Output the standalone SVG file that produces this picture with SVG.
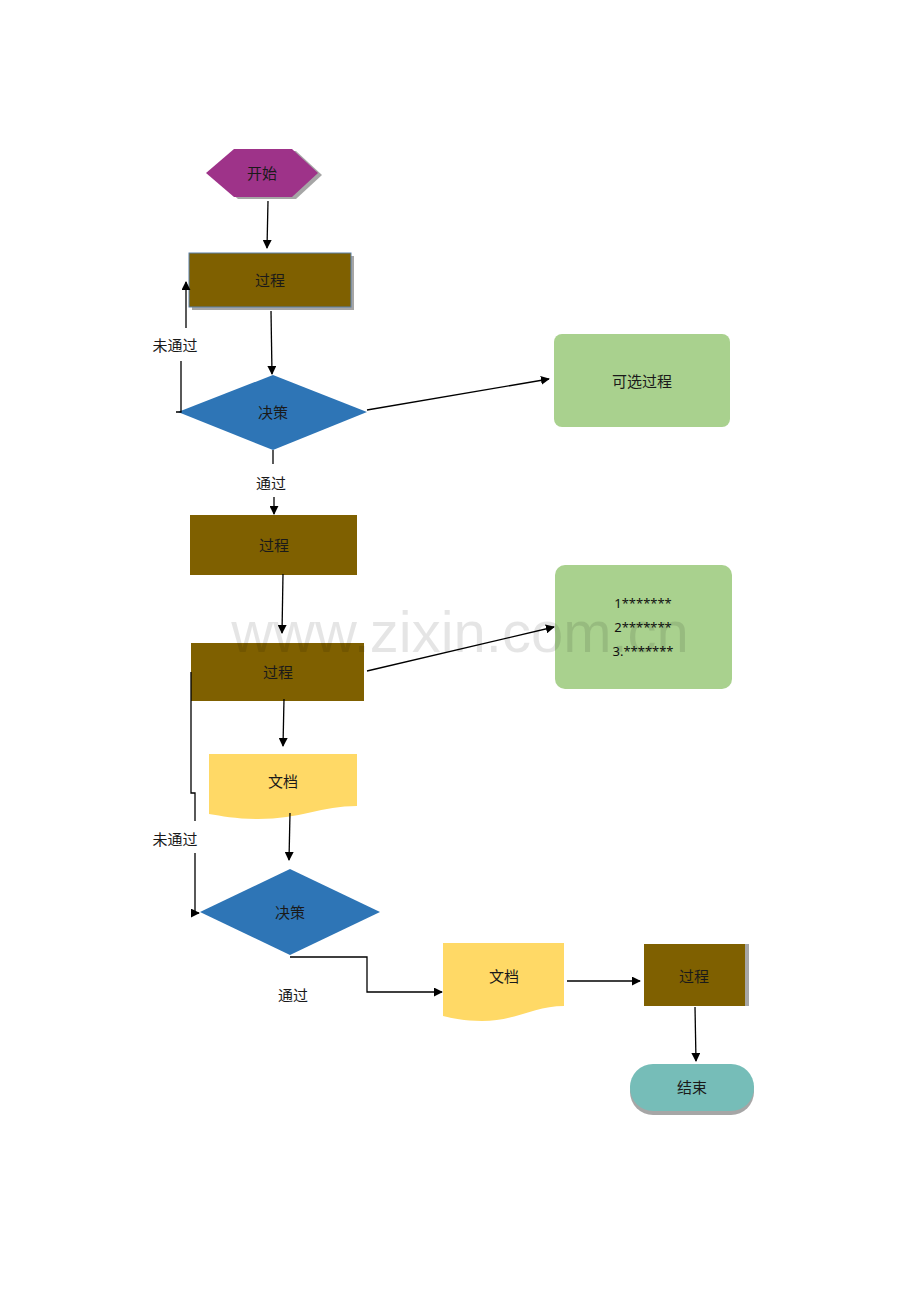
<svg xmlns="http://www.w3.org/2000/svg" width="920" height="1302" viewBox="0 0 920 1302">
<defs>
<style>
.t{font-family:"Liberation Sans","Noto Sans CJK SC",sans-serif;font-size:15px;fill:#1a1a1a;text-anchor:middle;dominant-baseline:central}
.n{font-family:"Noto Sans",sans-serif;font-size:13px;fill:#111;text-anchor:middle;dominant-baseline:central}
.c{fill:none;stroke:#000;stroke-width:1.3}
.proc{fill:#7F6000}
.doc{fill:#FFD966}
.dec{fill:#2E75B6}
.alt{fill:#A9D18E}
.sh{fill:#A6A6A6}
</style>
<marker id="a" viewBox="0 0 10 10" refX="9" refY="5" markerWidth="9" markerHeight="9" orient="auto" markerUnits="userSpaceOnUse"><path d="M0,0 L10,5 L0,10 Z" fill="#000"/></marker>
</defs>
<rect width="920" height="1302" fill="#fff"/>

<g id="start">
<polygon class="sh" points="210,175 238,151 296,151 322,175 296,199 238,199"/>
<polygon fill="#9E3389" points="206,173 234,149 292,149 318,173 292,197 234,197"/>
<text class="t" x="262" y="173">开始</text>
</g>

<g id="process1">
<rect class="sh" x="192" y="256" width="162" height="54"/>
<rect class="proc" x="189" y="253" width="162" height="54" stroke="#5B7FA6" stroke-width="1"/>
<text class="t" x="270" y="280">过程</text>
</g>

<g id="decision1">
<polygon class="dec" points="178,412 273,375 367,412 273,450"/>
<text class="t" x="273" y="412">决策</text>
</g>

<g id="optional">
<rect class="alt" x="554" y="334" width="176" height="93" rx="8"/>
<text class="t" x="642" y="381">可选过程</text>
</g>

<g id="process2">
<rect class="proc" x="190" y="515" width="167" height="60"/>
<text class="t" x="274" y="545">过程</text>
</g>

<g id="process3">
<rect class="proc" x="191" y="643" width="173" height="58"/>
<text class="t" x="278" y="672">过程</text>
</g>

<g id="notes">
<rect class="alt" x="555" y="565" width="177" height="124" rx="10"/>
<text class="n" x="643" y="603">1*******</text>
<text class="n" x="643" y="627">2*******</text>
<text class="n" x="643" y="651">3.*******</text>
</g>

<g id="document1">
<path class="doc" d="M209,754 H357 V806 C322,806 300,819 258,819 C236,819 222,816 209,814 Z"/>
<text class="t" x="283" y="781">文档</text>
</g>

<g id="decision2">
<polygon class="dec" points="200,912 290,869 380,912 290,955"/>
<text class="t" x="290" y="912">决策</text>
</g>

<g id="document2">
<path class="doc" d="M443,943 H564 V1006 C535,1006 515,1021 482,1021 C464,1021 452,1018 443,1016 Z"/>
<text class="t" x="504" y="976">文档</text>
</g>

<g id="process4">
<rect class="sh" x="648" y="944" width="101" height="62"/>
<rect class="proc" x="644" y="944" width="101" height="62"/>
<text class="t" x="694" y="976">过程</text>
</g>

<g id="end">
<rect class="sh" x="630" y="1068" width="124" height="47" rx="23"/>
<rect fill="#76BDB8" x="630" y="1064" width="124" height="47" rx="23"/>
<text class="t" x="692" y="1087">结束</text>
</g>

<g id="connectors">
<line class="c" x1="268" y1="201" x2="267" y2="248" marker-end="url(#a)"/>
<line class="c" x1="271" y1="311" x2="272" y2="374" marker-end="url(#a)"/>
<polyline class="c" points="176,412 181,412 181,361"/>
<line class="c" x1="186" y1="328" x2="186" y2="282" marker-end="url(#a)"/>
<line class="c" x1="367" y1="410" x2="549" y2="379" marker-end="url(#a)"/>
<line class="c" x1="273" y1="450" x2="273" y2="464"/>
<line class="c" x1="274" y1="497" x2="274" y2="514" marker-end="url(#a)"/>
<line class="c" x1="283" y1="574" x2="282" y2="633" marker-end="url(#a)"/>
<line class="c" x1="367" y1="671" x2="554" y2="627" marker-end="url(#a)"/>
<line class="c" x1="284" y1="699" x2="283" y2="746" marker-end="url(#a)"/>
<polyline class="c" points="191,672 191,793 195,793 195,821"/>
<polyline class="c" points="195,853 195,913 199,913" marker-end="url(#a)"/>
<line class="c" x1="290" y1="813" x2="289" y2="860" marker-end="url(#a)"/>
<polyline class="c" points="290,957 367,957 367,992 442,992" marker-end="url(#a)"/>
<line class="c" x1="567" y1="981" x2="640" y2="981" marker-end="url(#a)"/>
<line class="c" x1="695" y1="1007" x2="696" y2="1061" marker-end="url(#a)"/>
<text class="t" x="175" y="345">未通过</text>
<text class="t" x="271" y="483">通过</text>
<text class="t" x="175" y="839">未通过</text>
<text class="t" x="293" y="995">通过</text>
</g>

<text x="460" y="652" font-family="Liberation Sans, sans-serif" font-size="58" fill="#000" fill-opacity="0.1" text-anchor="middle">www.zixin.com.cn</text>
</svg>
